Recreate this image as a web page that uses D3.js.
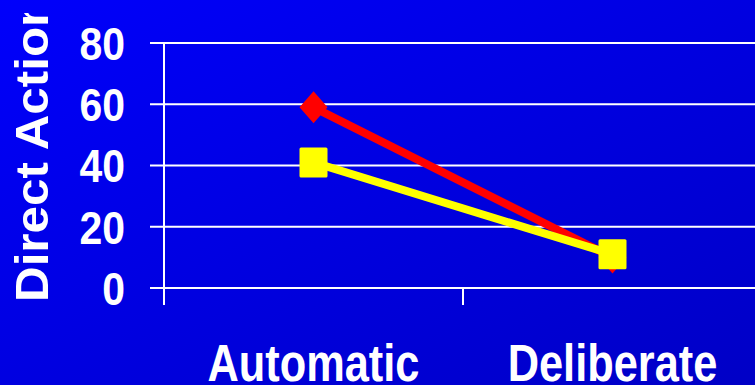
<!DOCTYPE html>
<html>
<head>
<meta charset="utf-8">
<script src="https://cdn.jsdelivr.net/npm/d3@7"></script>
<style>
  html, body { margin: 0; padding: 0; overflow: hidden; background: #0000e0; }
  text { font-family: "Liberation Sans", Arial, sans-serif; font-weight: bold; fill: #ffffff; }
</style>
</head>
<body>
<svg id="chart" width="755" height="385"></svg>
<script>
// Chart data
const categories = ["Automatic", "Deliberate"];
const redValues = [59, 10];
const yellowValues = [41, 11];
const yTickValues = [0, 20, 40, 60, 80];
const yAxisTitle = "Direct Action";

const W = 755, H = 385;
const svg = d3.select("#chart");
const defs = svg.append("defs");

// Blue background gradient
const grad = defs.append("linearGradient")
  .attr("id", "bg").attr("x1", "0").attr("y1", "0").attr("x2", "1").attr("y2", "1");
grad.append("stop").attr("offset", "0").attr("stop-color", "#0000fb");
grad.append("stop").attr("offset", "1").attr("stop-color", "#0000c6");
svg.append("rect").attr("width", W).attr("height", H).attr("fill", "url(#bg)");

// Title clip (the title runs off the top of the frame)
defs.append("clipPath").attr("id", "titleClip")
  .append("rect").attr("x", 0).attr("y", 13).attr("width", 80).attr("height", H);

// Scales
const plotLeft = 164, plotRight = 762;
const y = d3.scaleLinear().domain([0, 80]).range([288, 43]);
const x = d3.scaleBand().domain(categories).range([plotLeft, plotRight]);
const cx = d => x(d) + x.bandwidth() / 2;

// Gridlines with left tick extension
svg.append("g").selectAll("line")
  .data(yTickValues).join("line")
  .attr("x1", plotLeft - 14).attr("x2", W + 10)
  .attr("y1", d => y(d)).attr("y2", d => y(d))
  .attr("stroke", "#ffffff").attr("stroke-width", 2);

// Y axis line
svg.append("line")
  .attr("x1", plotLeft).attr("x2", plotLeft)
  .attr("y1", y(80)).attr("y2", y(0) + 17)
  .attr("stroke", "#ffffff").attr("stroke-width", 2);

// X axis ticks at category boundaries
svg.append("g").selectAll("line")
  .data(categories.slice(1)).join("line")
  .attr("x1", d => x(d)).attr("x2", d => x(d))
  .attr("y1", y(0)).attr("y2", y(0) + 17)
  .attr("stroke", "#ffffff").attr("stroke-width", 2);

// Y tick labels (narrow bold face)
const tickFont = 47;
svg.append("g").selectAll("text")
  .data(yTickValues).join("text")
  .attr("transform", d => `translate(125,${y(d) + tickFont * 0.358}) scale(0.87,1)`)
  .attr("text-anchor", "end")
  .attr("font-size", tickFont)
  .text(d => d);

// X category labels
const catFont = 51;
svg.append("g").selectAll("text")
  .data(categories).join("text")
  .attr("transform", d => `translate(${cx(d)},381) scale(0.85,1)`)
  .attr("text-anchor", "middle")
  .attr("font-size", catFont)
  .text(d => d);

// Y axis title
svg.append("g").attr("clip-path", "url(#titleClip)")
  .append("text")
  .attr("transform", "translate(48,302) rotate(-90) scale(1.05,1)")
  .attr("text-anchor", "start")
  .attr("font-size", 47)
  .text(yAxisTitle);

const line = d3.line().x((d, i) => cx(categories[i])).y(d => y(d));

// Red series: line with diamond markers
svg.append("path").datum(redValues)
  .attr("d", line).attr("fill", "none")
  .attr("stroke", "#ff0000").attr("stroke-width", 8);
svg.append("g").selectAll("path")
  .data(redValues).join("path")
  .attr("transform", (d, i) => `translate(${cx(categories[i])},${y(d)})`)
  .attr("d", "M0,-16L14,0L0,16L-14,0Z")
  .attr("fill", "#ff0000");

// Yellow series: line with square markers
svg.append("path").datum(yellowValues)
  .attr("d", line).attr("fill", "none")
  .attr("stroke", "#ffff00").attr("stroke-width", 8);
svg.append("g").selectAll("rect")
  .data(yellowValues).join("rect")
  .attr("x", (d, i) => cx(categories[i]) - 14)
  .attr("y", d => y(d) - 15)
  .attr("width", 28).attr("height", 30)
  .attr("rx", 1.5)
  .attr("fill", "#ffff00");
</script>
</body>
</html>
